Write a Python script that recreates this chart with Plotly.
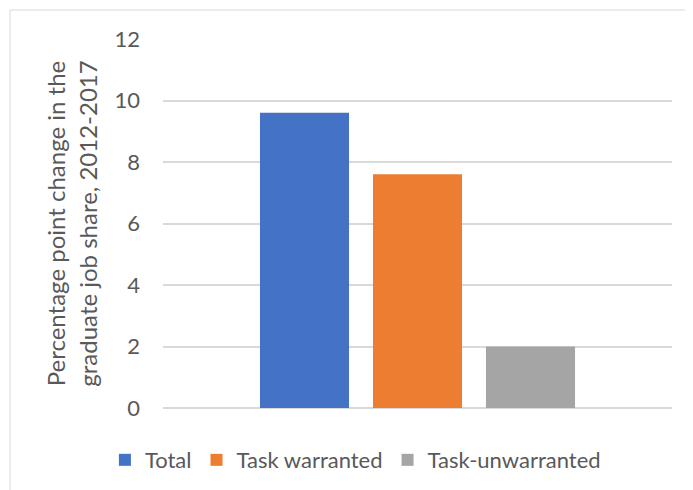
import plotly.graph_objects as go

# graduate job share change, 2012-2017 (percentage points)
categorias = ['']
series = ['Total', 'Task warranted', 'Task-unwarranted']
valores = [9.6, 7.6, 2.0]
cores = ['#4472C4', '#ED7D31', '#A5A5A5']
y_ticks = [0, 2, 4, 6, 8, 10, 12]

fonte = dict(family='Lato, Open Sans, sans-serif', size=22, color='#595959')

fig = go.Figure()
for nome, valor, cor in zip(series, valores, cores):
    fig.add_trace(go.Bar(x=categorias, y=[valor], name=nome, marker_color=cor,
                         marker_line_width=0, hoverinfo='skip'))

# page body has an 8px margin, so the figure is a bit smaller than the window
fig.update_layout(
    width=685, height=482,
    margin=dict(l=155, r=21, t=31, b=82, autoexpand=False),
    paper_bgcolor='white', plot_bgcolor='white',
    font=fonte,
    barmode='group', bargap=0.334, bargroupgap=0.212,
    showlegend=True,
    legend=dict(orientation='h', x=0.378, xanchor='center', y=-0.141, yanchor='middle',
                font=dict(size=22, color='#595959'), itemwidth=30,
                traceorder='normal'),
)

fig.update_xaxes(showticklabels=False, showgrid=False, zeroline=False, showline=False,
                 automargin=False)
fig.update_yaxes(
    range=[0, 12], tickvals=y_ticks, ticktext=[str(v) for v in y_ticks],
    showgrid=True, gridcolor='#d9d9d9', gridwidth=1.5,
    zeroline=True, zerolinecolor='#d9d9d9', zerolinewidth=1.5,
    showline=False, ticks='', ticklabelstandoff=22, automargin=False,
    tickfont=dict(size=22, color='#595959'),
    title=dict(text='Percentage point change in the<br>graduate job share, 2012-2017',
               font=dict(size=24, color='#595959'), standoff=10),
)

# chart area border (Excel style)
fig.add_shape(type='rect', xref='paper', yref='paper',
              x0=-0.3006, x1=1.2, y0=-0.4, y1=1.0786,
              line=dict(color='#d9d9d9', width=1), fillcolor='rgba(0,0,0,0)', layer='below')

fig.write_html('out.html')
